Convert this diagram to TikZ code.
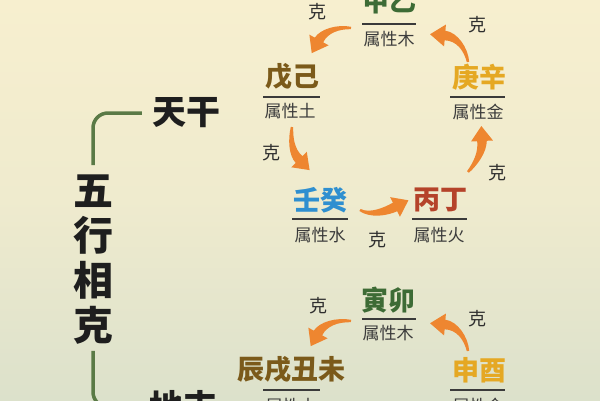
\documentclass[tikz,border=0pt]{standalone}
\usepackage{fontspec}
\setmainfont{Noto Sans CJK SC}
\usetikzlibrary{arrows.meta,calc}
\definecolor{bgtop}{HTML}{F7EFCF}
\definecolor{bgbot}{HTML}{DCE1CB}
\definecolor{wood}{HTML}{3D6B35}
\definecolor{earth}{HTML}{7B5A1A}
\definecolor{metal}{HTML}{E5A823}
\definecolor{water}{HTML}{2F8FD0}
\definecolor{fire}{HTML}{B5432A}
\definecolor{arroworange}{HTML}{EE8630}
\definecolor{subtext}{HTML}{3B3B3B}
\definecolor{ketext}{HTML}{2E2E2E}
\definecolor{ulinec}{HTML}{3A3A3A}
\definecolor{brgreen}{HTML}{5A7A46}
\definecolor{sidetext}{HTML}{1E1E1E}
% tapered curved arrow: #1 tail, #2 first control, #3 second control, #4 base of head
\newcommand\kearrowdraw[4]{%
  \fill[arroworange]
    ($(#1)!1.2pt!90:(#2)$)
    .. controls ($(#2)!2.6pt!90:(#3)$) and ($(#3)!4.2pt!90:(#4)$) .. ($(#4)!4.8pt!-90:(#3)$)
    -- ($(#4)!11pt!-90:(#3)$) -- ($(#4)!-15pt!(#3)$) -- ($(#4)!11pt!90:(#3)$)
    -- ($(#4)!4.8pt!90:(#3)$)
    .. controls ($(#3)!4.2pt!-90:(#4)$) and ($(#2)!2.6pt!-90:(#3)$) .. ($(#1)!1.2pt!-90:(#2)$)
    -- cycle;}
\begin{document}
\begin{tikzpicture}[x=1pt,y=1pt,
  stem/.style={font=\fontsize{27}{27}\selectfont\bfseries, inner sep=0pt},
  prop/.style={font=\fontsize{17}{17}\selectfont, text=subtext, inner sep=0pt},
  ke/.style={font=\fontsize{18}{18}\selectfont, text=ketext, inner sep=0pt},
  uline/.style={draw=ulinec, line width=1.6pt},
  bracket/.style={draw=brgreen, line width=3.5pt, rounded corners=15pt},
  side/.style={font=\fontsize{34}{34}\selectfont\bfseries, text=sidetext, inner sep=0pt}]
\useasboundingbox (0,0) rectangle (600,400);
\clip (0,0) rectangle (600,400);
\shade[top color=bgtop, bottom color=bgbot, middle color=bgtop!70!bgbot] (0,0) rectangle (600,400);

% ---- heavenly stems ----
\node[stem, text=wood]  (jy) at (389,398) {甲乙};
\draw[uline] (362,376) -- (416,376);
\node[prop] (jyp) at (389,361) {属性木};

\node[stem, text=earth] (wj) at (292,323) {戊己};
\draw[uline] (263,303) -- (320,303);
\node[prop] (wjp) at (290,289) {属性土};

\node[stem, text=metal] (gx) at (479,323) {庚辛};
\draw[uline] (450,303) -- (505,303);
\node[prop] (gxp) at (478,288) {属性金};

\node[stem, text=water] (rg) at (320,200) {壬癸};
\draw[uline] (292,181) -- (348,181);
\node[prop] (rgp) at (320,165) {属性水};

\node[stem, text=fire] (bd) at (440,200) {丙丁};
\draw[uline] (412,181) -- (467,181);
\node[prop] (bdp) at (439,165) {属性火};

\node[ke] (k1) at (317,388) {克};
\node[ke] (k2) at (477,375) {克};
\node[ke] (k3) at (271,247) {克};
\node[ke] (k4) at (377,160) {克};
\node[ke] (k5) at (497,227) {克};

% arrow geometry: tail, controls, head base
\coordinate (t1) at (351,372); \coordinate (a1) at (338,373.5); \coordinate (b1) at (324,369); \coordinate (e1) at (319,360);
\coordinate (t2) at (468,338); \coordinate (a2) at (466,351); \coordinate (b2) at (457,363.5); \coordinate (e2) at (445,364.5);
\coordinate (t3) at (292,273); \coordinate (a3) at (290.5,261); \coordinate (b3) at (291.5,248); \coordinate (e3) at (299,240.5);
\coordinate (t4) at (360,190); \coordinate (a4) at (370,184); \coordinate (b4) at (385,188); \coordinate (e4) at (395,193);
\coordinate (t5) at (468,228); \coordinate (a5) at (476,237); \coordinate (b5) at (482.5,248); \coordinate (e5) at (482,259);
\kearrowdraw{t1}{a1}{b1}{e1}
\kearrowdraw{t2}{a2}{b2}{e2}
\kearrowdraw{t3}{a3}{b3}{e3}
\kearrowdraw{t4}{a4}{b4}{e4}
\kearrowdraw{t5}{a5}{b5}{e5}

% ---- earthly branches ----
\node[stem, text=wood]  (ym) at (388,100) {寅卯};
\draw[uline] (362,81) -- (416,81);
\node[prop] (ymp) at (388,67) {属性木};

\node[stem, text=earth] (cx) at (291,30) {辰戌丑未};
\draw[uline] (263,10) -- (320,10);
\node[prop] (cxp) at (291,-6) {属性土};

\node[stem, text=metal] (sy) at (479,30) {申酉};
\draw[uline] (450,10) -- (505,10);
\node[prop] (syp) at (478,-6) {属性金};

\node[ke] (k6) at (318,94) {克};
\node[ke] (k7) at (477,81) {克};
\coordinate (t6) at (351,79); \coordinate (a6) at (337,80.5); \coordinate (b6) at (323,76); \coordinate (e6) at (318,67);
\coordinate (t7) at (468,49); \coordinate (a7) at (466,62); \coordinate (b7) at (457,74.5); \coordinate (e7) at (445,75.5);
\kearrowdraw{t6}{a6}{b6}{e6}
\kearrowdraw{t7}{a7}{b7}{e7}

% ---- left title and bracket ----
\node[side] (tg) at (186,287) {天干};
\node[side] (dz) at (183,-7) {地支};
\node[side, font=\fontsize{40}{45}\selectfont\bfseries, align=center] (wx) at (93,140) {五\\行\\相\\克};
\draw[bracket] ([xshift=-10pt]tg.west) -| ([yshift=10pt]wx.north);
\draw[bracket] ([yshift=-6pt]wx.south) |- ([xshift=-10pt]dz.west);
\end{tikzpicture}
\end{document}
